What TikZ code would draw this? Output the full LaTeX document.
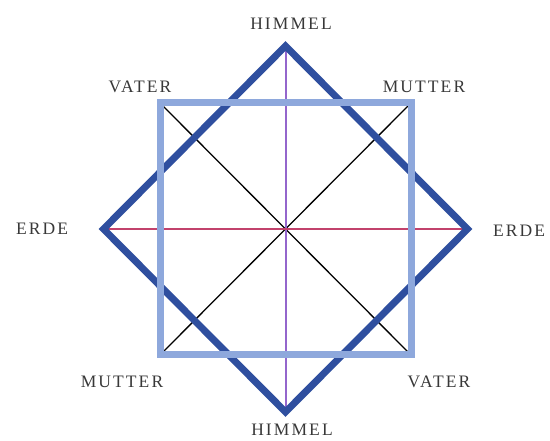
\documentclass[tikz,border=0pt]{standalone}
\usepackage{fontspec}
\usepackage{xcolor}
\usepackage{tikz}
\usetikzlibrary{positioning,calc}
\newfontfamily\labfont[LetterSpace=12]{Liberation Serif}
\definecolor{darkblue}{HTML}{2F4F9F}
\definecolor{lightblue}{HTML}{8EA8DC}
\definecolor{himmelline}{HTML}{9466CC}
\definecolor{erdeline}{HTML}{C2426C}
\definecolor{labgray}{HTML}{383838}

\begin{document}
\begin{tikzpicture}[x=1pt,y=-1pt,
  lab/.style={font=\labfont\fontsize{17.5}{17.5}\selectfont,text=labgray,inner sep=0pt}]
\useasboundingbox (0,0) rectangle (550,441);
% Center and corners
\coordinate (c) at (285.5,229);
\coordinate (top) at (285.5,46);
\coordinate (bot) at (285.5,412);
\coordinate (lft) at (103.5,229);
\coordinate (rgt) at (467.5,229);
\coordinate (tl) at (160,103);
\coordinate (tr) at (411,103);
\coordinate (bl) at (160,355);
\coordinate (br) at (411,355);

% Cross lines
\draw[line width=1.3pt] (tl)--(br);
\draw[line width=1.3pt] (tr)--(bl);
\draw[himmelline,line width=2pt] (top)--(bot);
\draw[erdeline,line width=1.8pt] (lft)--(rgt);

% Diamond and square
\draw[darkblue,line width=7pt,line join=miter] (top)--(rgt)--(bot)--(lft)--cycle;
\draw[lightblue,line width=7pt,line join=miter] (tl)--(tr)--(br)--(bl)--cycle;

% Labels
\node[lab] (himmel1) at (291,24) {HIMMEL};
\node[lab] (himmel2) at (292,430) {HIMMEL};
\node[lab] (erde1) at (42,229) {ERDE};
\node[lab] (erde2) at (519,231) {ERDE};
\node[lab] (vater1) at (140,87) {VATER};
\node[lab] (mutter1) at (424,87) {MUTTER};
\node[lab] (mutter2) at (122,382) {MUTTER};
\node[lab] (vater2) at (439,382) {VATER};
\end{tikzpicture}
\end{document}
